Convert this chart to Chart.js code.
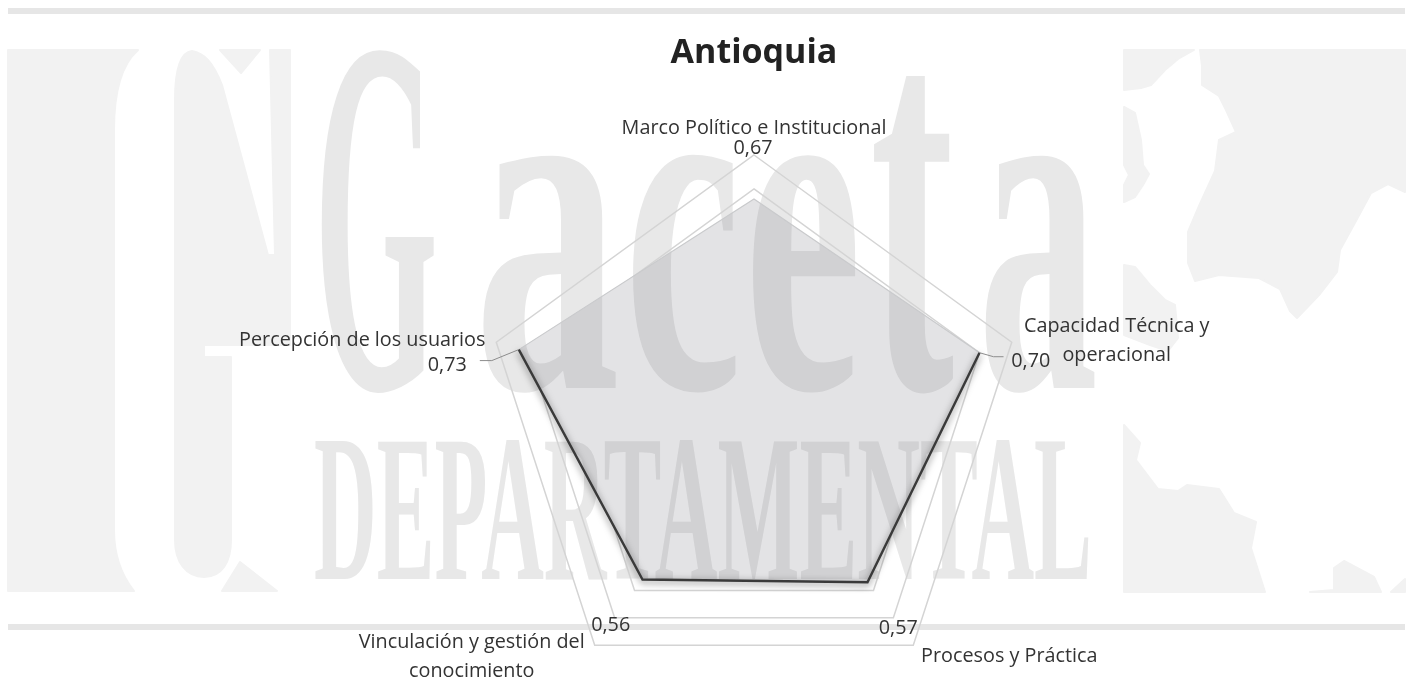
<!DOCTYPE html>
<html lang="es">
<head>
<meta charset="utf-8">
<title>Antioquia</title>
<script src="https://cdn.jsdelivr.net/npm/chart.js@4"></script>
<style>
  html, body { margin: 0; padding: 0; background: #fff; overflow: hidden; }
  #stage { position: relative; width: 1410px; height: 679px; overflow: hidden; }
  #wm, #chart { position: absolute; left: 0; top: 0; }
  #wm text { font-family: "Liberation Serif", serif; font-weight: 700; fill: #e8e8e8; }
  #wm path { fill: #f2f2f2; stroke: #f2f2f2; stroke-width: 2; stroke-linejoin: round; }
  #wm rect { fill: #e6e6e6; }
</style>
</head>
<body>
<div id="stage">
  <svg id="wm" width="1410" height="679" viewBox="0 0 1410 679" aria-hidden="true">
    <rect x="8" y="8" width="1397" height="6"></rect>
    <rect x="8" y="624" width="1397" height="6"></rect>
    <path d="M8 50H138C122 64 114 90 114 130V530C114 556 122 576 134 591H8Z"></path>
    <path d="M175 100C175 66 182 52 192 51C204 53 213 62 222 85L268 255H275L270 50H290V345H204V357H231V540C231 562 222 577 204 577C186 577 175 562 175 540Z"></path>
    <path d="M220 50H260L241 73Z"></path>
    <path d="M240 562L277 591H222Z"></path>
    <path d="M1124 50H1194L1178 59L1165 70L1151 85L1141 88L1124 90Z"></path>
    <path d="M1124 107L1135 113L1141 140L1143 165L1149 174L1143 185L1135 197L1124 202V185L1129 175L1124 165Z"></path>
    <path d="M1124 265L1135 267L1150 285L1165 300L1175 305L1178 338L1168 351L1150 345L1124 335Z"></path>
    <path d="M1200 50H1405V192L1388 184L1371 193L1357 219L1340 250L1337 272L1320 294L1297 318L1290 311L1280 289L1259 278L1219 275L1195 281L1188 263L1188 232L1199 206L1215 171L1219 140L1236 132L1226 110L1219 96L1202 85L1202 66Z"></path>
    <path d="M1124 425L1140 443L1136 460L1158 489L1178 491L1187 485L1219 489L1234 513L1256 522L1251 548L1265 592H1124Z"></path>
    <path d="M1310 592L1334 590L1334 568L1344 561L1374 577L1381 592Z"></path>
    <path d="M1391 592L1405 579V592Z"></path>
    <text x="314" y="388" font-size="510" textLength="124" lengthAdjust="spacingAndGlyphs">G</text>
    <text x="474" y="388" font-size="495" textLength="146" lengthAdjust="spacingAndGlyphs">a</text>
    <text x="624" y="388" font-size="495" textLength="118" lengthAdjust="spacingAndGlyphs">c</text>
    <text x="744" y="388" font-size="495" textLength="118" lengthAdjust="spacingAndGlyphs">e</text>
    <text x="870" y="388" font-size="554" textLength="84" lengthAdjust="spacingAndGlyphs">t</text>
    <text x="978" y="388" font-size="495" textLength="120" lengthAdjust="spacingAndGlyphs">a</text>
    <text x="314" y="579" font-size="210" textLength="778" lengthAdjust="spacingAndGlyphs">DEPARTAMENTAL</text>
  </svg>
  <canvas id="chart" width="1410" height="698"></canvas>
</div>
<script>
const categories = [
  "Marco Político e Institucional",
  ["Capacidad Técnica y", "operacional"],
  "Procesos y Práctica",
  ["Vinculación y gestión del", "conocimiento"],
  "Percepción de los usuarios"
];
const seriesValues = [0.67, 0.70, 0.57, 0.56, 0.73];
const chartTitle = "Antioquia";

// Label placement, relative to each spoke's outer vertex (dx, dy of the label centre)
const categoryLabelOffsets = [[0, -27], [105, -16], [96, 11], [-123, -3], [-134, -2]];
const categoryLineHeight = 29;
const valueLabelOffsets = [[-1, -7], [19, 19], [-15, -17], [16, -20], [-49, 23]];
// Leader lines, relative to the data point
const leaderOffsets = { 1: [[14, 4], [24, 4]], 4: [[-27, 11], [-39, 11]] };

const labelFont = '19.8px "Open Sans", sans-serif';
const LOWER_EDGE = 0;

const radarDecor = {
  id: 'radarDecor',
  // The filled area hides the rings behind it, as in the reference
  beforeDraw(chart) {
    const ctx = chart.ctx;
    const scale = chart.scales.r;
    ctx.save();
    ctx.beginPath();
    ctx.rect(0, 0, chart.width, chart.height);
    seriesValues.forEach((v, i) => {
      const p = scale.getPointPositionForValue(i, v);
      if (i === 0) ctx.moveTo(p.x, p.y); else ctx.lineTo(p.x, p.y);
    });
    ctx.closePath();
    ctx.clip('evenodd');
  },
  beforeDatasetsDraw(chart) {
    chart.ctx.restore();
  },
  beforeDatasetDraw(chart, args) {
    const ctx = chart.ctx;
    ctx.save();
    if (args.index === LOWER_EDGE) {
      ctx.shadowColor = 'rgba(0,0,0,0.6)';
      ctx.shadowBlur = 7;
      ctx.shadowOffsetY = 2;
    }
  },
  afterDatasetDraw(chart) {
    chart.ctx.restore();
  },
  afterDatasetsDraw(chart) {
    const ctx = chart.ctx;
    const scale = chart.scales.r;
    ctx.save();
    ctx.font = labelFont;
    ctx.fillStyle = '#333333';
    ctx.textAlign = 'center';
    ctx.textBaseline = 'middle';
    seriesValues.forEach((v, i) => {
      const outer = scale.getPointPositionForValue(i, scale.max);
      const pt = scale.getPointPositionForValue(i, v);
      const lines = [].concat(categories[i]);
      const [cdx, cdy] = categoryLabelOffsets[i];
      lines.forEach((line, k) => ctx.fillText(line, outer.x + cdx, outer.y + cdy + k * categoryLineHeight));
      const [vdx, vdy] = valueLabelOffsets[i];
      ctx.fillText(v.toFixed(2).replace('.', ','), outer.x + vdx, outer.y + vdy);
      if (leaderOffsets[i]) {
        ctx.beginPath();
        ctx.strokeStyle = '#8c8c8c';
        ctx.lineWidth = 1;
        ctx.moveTo(pt.x, pt.y);
        leaderOffsets[i].forEach(o => ctx.lineTo(pt.x + o[0], pt.y + o[1]));
        ctx.stroke();
      }
    });
    ctx.restore();
  }
};

new Chart(document.getElementById('chart'), {
  type: 'radar',
  data: {
    labels: categories,
    datasets: [
      {
        // Darker lower run of the same series (the reference's shadowed edge)
        label: chartTitle + ' (borde)',
        data: seriesValues.map((v, i) => i === 0 ? null : v),
        fill: false,
        borderColor: '#3a3a3a',
        borderWidth: 2.4,
        pointRadius: 0,
        pointHoverRadius: 0,
        spanGaps: false,
        tension: 0
      },
      {
        label: chartTitle,
        data: seriesValues,
        fill: true,
        backgroundColor: 'rgba(123,125,130,0.21)',
        borderColor: '#c9cacc',
        borderWidth: 1.2,
        pointRadius: 0,
        pointHoverRadius: 0,
        tension: 0
      }
    ]
  },
  plugins: [radarDecor],
  options: {
    responsive: false,
    animation: false,
    devicePixelRatio: 1,
    layout: { padding: { left: 98, right: 0, top: 33, bottom: 0 } },
    plugins: {
      legend: { display: false },
      tooltip: { enabled: false },
      title: {
        display: true,
        text: chartTitle,
        color: '#222222',
        font: { family: '"Open Sans", sans-serif', size: 34, weight: 'bold' },
        padding: { top: 0, bottom: 82 }
      }
    },
    scales: {
      r: {
        min: 0,
        max: 0.8,
        ticks: { display: false, stepSize: 0.1 },
        angleLines: { display: false },
        pointLabels: { display: false },
        grid: { lineWidth: 1.5, color: '#d4d4d4' }
      }
    }
  }
});
</script>
</body>
</html>
